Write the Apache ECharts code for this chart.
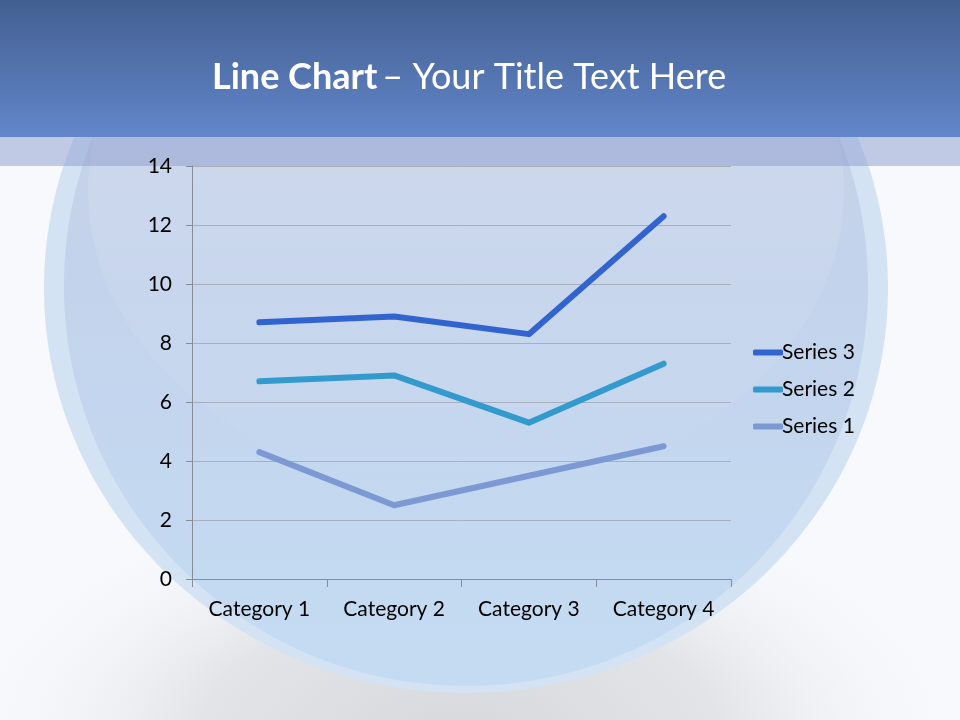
<!DOCTYPE html>
<html>
<head>
<meta charset="utf-8">
<script src="https://cdn.jsdelivr.net/npm/echarts@6/dist/echarts.min.js"></script>
<style>
  html, body { margin: 0; padding: 0; }
  #main { width: 960px; height: 720px; }
</style>
</head>
<body>
<div id="main"></div>
<script type="text/javascript">
// data
var categories = ['Category 1', 'Category 2', 'Category 3', 'Category 4'];
var series1 = [4.3, 2.5, 3.5, 4.5];
var series2 = [6.7, 6.9, 5.3, 7.3];
var series3 = [8.7, 8.9, 8.3, 12.3];
var yTicks = [0, 2, 4, 6, 8, 10, 12, 14];

var myChart = echarts.init(document.getElementById('main'));
var font = 'Lato, "Open Sans", sans-serif';

// slide decoration (title bar, glass circle, bottom shadow)
var deco = [
  { type: 'rect', z: -10, shape: { x: 0, y: 0, width: 960, height: 720 }, style: { fill: '#f7f9fc' } },
  { type: 'circle', z: -9, x: 460, y: 735, scaleY: 0.5, shape: { cx: 0, cy: 0, r: 520 },
    style: { fill: { type: 'radial', x: 0.5, y: 0.5, r: 0.5, colorStops: [
      { offset: 0, color: '#d6d8dc' }, { offset: 0.5, color: '#e2e4e8' }, { offset: 1, color: 'rgba(247,249,252,0)' }] } } },
  { type: 'ellipse', z: -8, shape: { cx: 466, cy: 288, rx: 422, ry: 405 }, style: { fill: '#d3e3f4' } },
  { type: 'ellipse', z: -7, shape: { cx: 466, cy: 286, rx: 402, ry: 400 },
    style: { fill: { type: 'linear', x: 0, y: 0, x2: 0, y2: 1, colorStops: [
      { offset: 0, color: '#c9cfe4' }, { offset: 0.5, color: '#c3d3ec' }, { offset: 1, color: '#c4dcf3' }] } } },
  { type: 'ellipse', z: -6, shape: { cx: 466, cy: 190, rx: 378, ry: 300 },
    style: { fill: { type: 'linear', x: 0, y: 0, x2: 0, y2: 1, colorStops: [
      { offset: 0, color: 'rgba(230,235,245,0.4)' }, { offset: 1, color: 'rgba(230,235,245,0)' }] } } },
  { type: 'rect', z: -5, shape: { x: 0, y: 137, width: 960, height: 29 }, style: { fill: 'rgba(140,155,205,0.5)' } },
  { type: 'rect', z: -4, shape: { x: 0, y: 0, width: 960, height: 137 },
    style: { fill: { type: 'linear', x: 0, y: 0, x2: 0, y2: 1, colorStops: [
      { offset: 0, color: '#435f91' }, { offset: 1, color: '#6286c9' }] } } }
];

myChart.setOption({
  animation: false,
  graphic: deco,
  title: {
    text: '{b|Line Chart} {n|– Your Title Text Here}',
    left: 207,
    top: 54,
    textStyle: {
      rich: {
        b: { fontFamily: font, fontSize: 36, fontWeight: 'bold', color: '#ffffff' },
        n: { fontFamily: font, fontSize: 36, fontWeight: 'normal', color: '#ffffff' }
      }
    }
  },
  legend: {
    orient: 'vertical',
    left: 748,
    top: 337,
    itemWidth: 30,
    itemHeight: 6,
    itemGap: 16,
    icon: 'roundRect',
    data: ['Series 3', 'Series 2', 'Series 1'],
    textStyle: { fontFamily: font, fontSize: 21, color: '#000000', padding: [0, 0, 0, -6] }
  },
  grid: { left: 192, right: 229, top: 166, bottom: 141 },
  xAxis: {
    type: 'category',
    data: categories,
    boundaryGap: true,
    axisLine: { lineStyle: { color: '#878c96' } },
    axisTick: { show: true, length: 8, lineStyle: { color: '#878c96' } },
    axisLabel: { fontFamily: font, fontSize: 21, color: '#000000', margin: 20 }
  },
  yAxis: {
    type: 'value',
    min: yTicks[0],
    max: yTicks[yTicks.length - 1],
    interval: 2,
    axisLine: { show: true, lineStyle: { color: '#878c96' } },
    axisTick: { show: true, length: 6, lineStyle: { color: '#878c96' } },
    splitLine: { lineStyle: { color: '#a9afba' } },
    axisLabel: { fontFamily: font, fontSize: 21, color: '#000000', margin: 20 }
  },
  series: [
    { name: 'Series 1', type: 'line', data: series1, symbol: 'none',
      itemStyle: { color: '#7c99d3' }, lineStyle: { width: 6, color: '#7c99d3', cap: 'round', join: 'round' } },
    { name: 'Series 2', type: 'line', data: series2, symbol: 'none',
      itemStyle: { color: '#339acd' }, lineStyle: { width: 6, color: '#339acd', cap: 'round', join: 'round' } },
    { name: 'Series 3', type: 'line', data: series3, symbol: 'none',
      itemStyle: { color: '#3264cf' }, lineStyle: { width: 6, color: '#3264cf', cap: 'round', join: 'round' } }
  ]
});
</script>
</body>
</html>
